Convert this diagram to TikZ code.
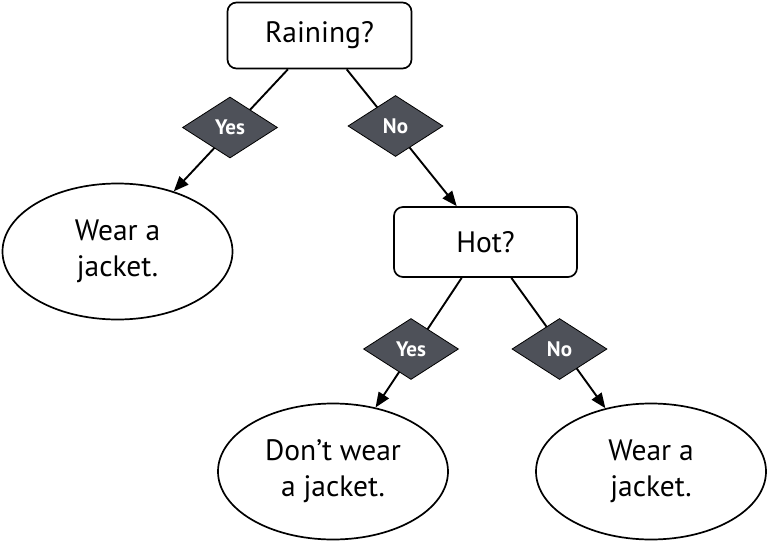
\documentclass[tikz,border=0pt]{standalone}
\usepackage{fontspec}
\setmainfont{PT Sans}
\usepackage{xcolor}
\usetikzlibrary{shapes.geometric,arrows.meta}
\definecolor{choicegrey}{RGB}{78,81,89}
\begin{document}
\begin{tikzpicture}[x=1pt,y=-1pt]

        \tikzstyle{question}=[draw,rounded corners=9pt,line width=1.7pt,minimum width=184pt,minimum height=66pt,font=\fontsize{29.5}{36}\selectfont]
        \tikzstyle{answer}=[draw,ellipse,line width=1.7pt,minimum width=230pt,minimum height=136pt,align=center,font=\fontsize{29.5}{36}\selectfont]
        \tikzstyle{choice}=[draw,diamond,fill=choicegrey,line width=0.8pt,minimum width=95pt,minimum height=61pt,inner sep=0pt,text=white,font=\bfseries\fontsize{21}{24}\selectfont]
        \tikzstyle{branch}=[line width=1.9pt,-{Triangle[length=15pt,width=12pt]}]

        \useasboundingbox (0,0) rectangle (768,541);

        %% Questions
        \node[question] (rain) at (319.5,35.5) {Raining?};
        \node[question,minimum width=183pt,minimum height=70pt] (hot) at (485.5,242) {Hot?};

        %% Answers
        \node[answer] (jacketL) at (117.5,251.5) {Wear a\\jacket.};
        \node[answer] (nojacket) at (333,471.5) {Don’t wear\\a jacket.};
        \node[answer] (jacketR) at (651,471.5) {Wear a\\jacket.};

        %% Branches
        \draw[branch] (rain) -- (jacketL);
        \draw[branch] (rain) -- (hot);
        \draw[branch] (hot) -- (nojacket);
        \draw[branch] (hot) -- (jacketR);

        %% Choices on the branches
        \node[choice] (yesA) at (230,127.5) {Yes};
        \node[choice] (noA) at (395.5,126) {No};
        \node[choice] (yesB) at (411,349) {Yes};
        \node[choice] (noB) at (559.5,349) {No};

\end{tikzpicture}
\end{document}
